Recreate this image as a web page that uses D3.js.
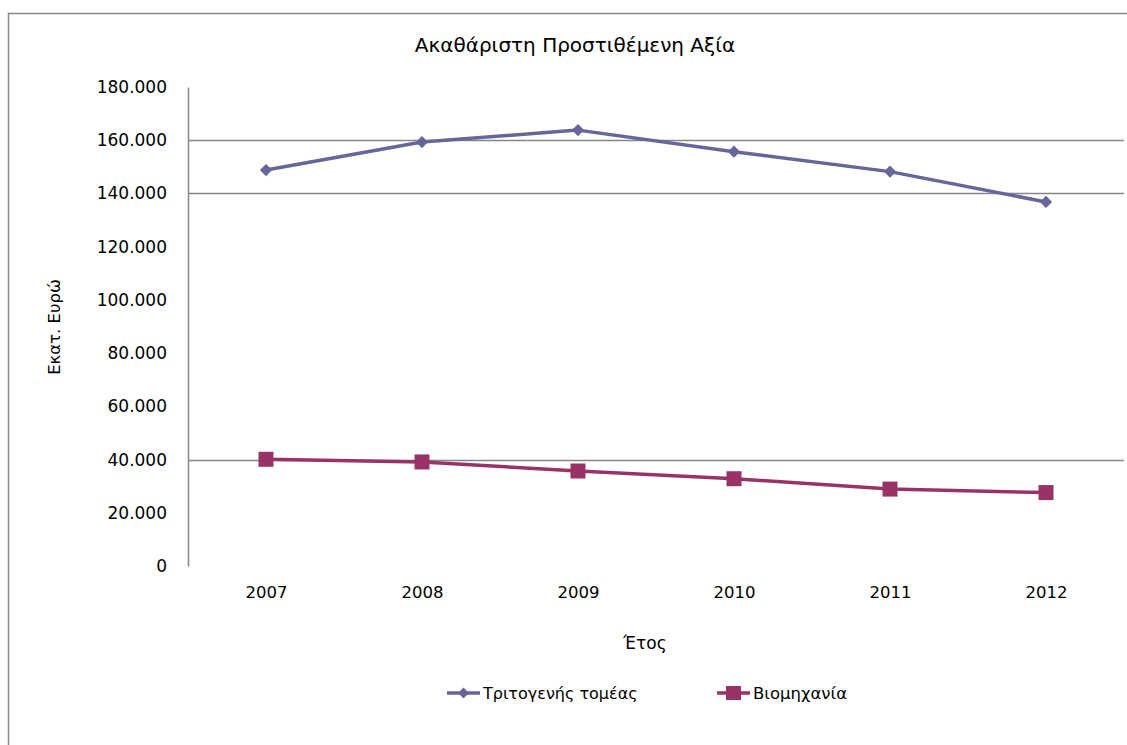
<!DOCTYPE html>
<html>
<head>
<meta charset="utf-8">
<script src="https://cdn.jsdelivr.net/npm/d3@7"></script>
<style>
  html, body { margin: 0; padding: 0; background: #fff; }
  svg { display: block; font-family: "DejaVu Sans", sans-serif; }
</style>
</head>
<body>
<svg id="chart" width="1127" height="745"></svg>
<script>
// ---- data ----
const years = ["2007", "2008", "2009", "2010", "2011", "2012"];
const tertiary = [148800, 159300, 163800, 155700, 148200, 136800];
const industry = [40100, 39100, 35700, 32800, 28900, 27600];
const yTicks = [0, 20000, 40000, 60000, 80000, 100000, 120000, 140000, 160000, 180000];
const gridValues = [40000, 140000, 160000];
const seriesNames = ["Τριτογενής τομέας", "Βιομηχανία"];
const title = "Ακαθάριστη Προστιθέμενη Αξία";
const yLabel = "Εκατ. Ευρώ";
const xLabel = "Έτος";

const colors = ["#66669a", "#993366"];
const svg = d3.select("#chart");
const plot = { left: 188, right: 1124, top: 87, bottom: 566 };

// outer border
svg.append("rect").attr("x", 8.5).attr("y", 13.5).attr("width", 1200).attr("height", 800)
  .attr("fill", "none").attr("stroke", "#888").attr("stroke-width", 1.5);

const x = d3.scalePoint().domain(years).range([plot.left, plot.right]).padding(0.5);
const y = d3.scaleLinear().domain([0, 180000]).range([plot.bottom, plot.top]);

const loc = d3.formatLocale({ decimal: ",", thousands: ".", grouping: [3], currency: ["", "€"] });
const fmt = loc.format(",d");

// gridlines
svg.append("g").selectAll("line").data(gridValues).join("line")
  .attr("x1", plot.left).attr("x2", plot.right)
  .attr("y1", d => Math.round(y(d)) + 0.5).attr("y2", d => Math.round(y(d)) + 0.5)
  .attr("stroke", "#868686").attr("stroke-width", 1.5);

// y axis
const yAxis = svg.append("g").attr("transform", `translate(${plot.left},0)`)
  .call(d3.axisLeft(y).tickValues(yTicks).tickFormat(fmt).tickSize(0).tickPadding(21));
yAxis.select(".domain").attr("stroke", "#868686").attr("stroke-width", 1.5);
yAxis.selectAll("text").attr("font-size", 17).attr("fill", "#000")
  .attr("font-family", "DejaVu Sans, sans-serif");

// x axis (labels only)
const xAxis = svg.append("g").attr("transform", `translate(0,${plot.bottom})`)
  .call(d3.axisBottom(x).tickSize(0).tickPadding(20));
xAxis.select(".domain").remove();
xAxis.selectAll("text").attr("font-size", 16.5).attr("fill", "#000")
  .attr("font-family", "DejaVu Sans, sans-serif");

// lines & markers
const series = [tertiary, industry];
const line = d3.line().x((d, i) => x(years[i])).y(d => y(d));
series.forEach((vals, si) => {
  svg.append("path").datum(vals).attr("d", line)
    .attr("fill", "none").attr("stroke", colors[si]).attr("stroke-width", 3.5)
    .attr("stroke-linejoin", "round");
});
svg.append("g").selectAll("path").data(tertiary).join("path")
  .attr("transform", (d, i) => `translate(${x(years[i])},${y(d)}) rotate(45)`)
  .attr("d", d3.symbol().type(d3.symbolSquare).size(75)())
  .attr("fill", colors[0]);
svg.append("g").selectAll("rect").data(industry).join("rect")
  .attr("x", (d, i) => x(years[i]) - 7.5).attr("y", d => y(d) - 7.5)
  .attr("width", 15).attr("height", 15).attr("fill", colors[1]);

// title
svg.append("text").attr("x", 575).attr("y", 52).attr("text-anchor", "middle")
  .attr("font-size", 20).attr("fill", "#000").text(title);

// axis titles
svg.append("text").attr("transform", "translate(60,327) rotate(-90)")
  .attr("text-anchor", "middle").attr("font-size", 16.5).attr("fill", "#000").text(yLabel);
svg.append("text").attr("x", 645).attr("y", 649).attr("text-anchor", "middle")
  .attr("font-size", 17).attr("fill", "#000").text(xLabel);

// legend
const legendX = [447, 717];
seriesNames.forEach((name, i) => {
  const g = svg.append("g").attr("transform", `translate(${legendX[i]},693)`);
  g.append("line").attr("x1", 0).attr("x2", 33).attr("y1", 0).attr("y2", 0)
    .attr("stroke", colors[i]).attr("stroke-width", 3.5);
  if (i === 0) {
    g.append("path").attr("transform", "translate(16.5,0) rotate(45)")
      .attr("d", d3.symbol().type(d3.symbolSquare).size(60)()).attr("fill", colors[i]);
  } else {
    g.append("rect").attr("x", 9).attr("y", -7).attr("width", 15).attr("height", 14).attr("fill", colors[i]);
  }
  g.append("text").attr("x", 36).attr("y", 6).attr("font-size", i === 0 ? 16 : 16.5)
    .attr("fill", "#000").text(name);
});
</script>
</body>
</html>
